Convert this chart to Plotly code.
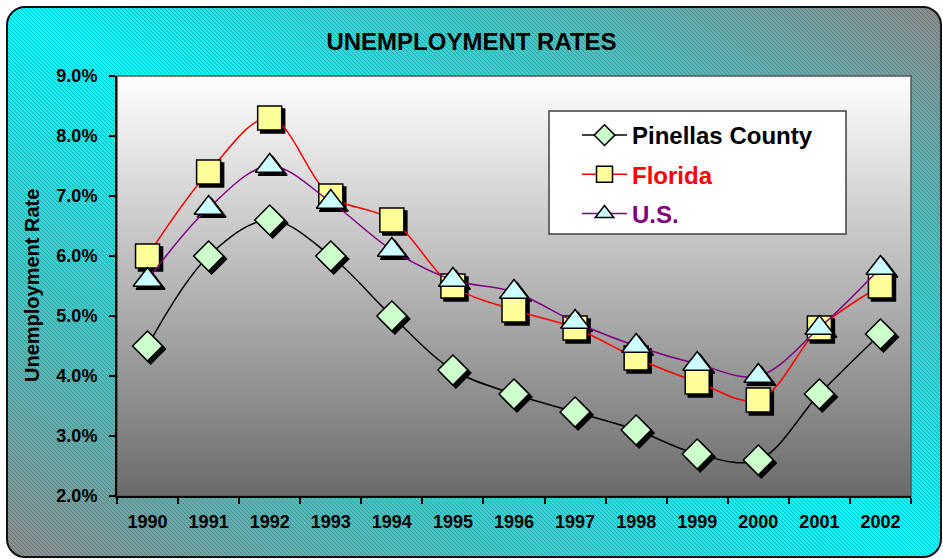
import base64
import plotly.graph_objects as go

years = ["1990", "1991", "1992", "1993", "1994", "1995", "1996",
         "1997", "1998", "1999", "2000", "2001", "2002"]
pinellas = [4.5, 6.0, 6.6, 6.0, 5.0, 4.1, 3.7, 3.4, 3.1, 2.7, 2.6, 3.7, 4.7]
florida = [6.0, 7.4, 8.3, 7.0, 6.6, 5.5, 5.1, 4.8, 4.3, 3.9, 3.6, 4.8, 5.5]
us = [5.6, 6.8, 7.5, 6.9, 6.1, 5.6, 5.4, 4.9, 4.5, 4.2, 4.0, 4.8, 5.8]

W, H = 943, 559
L, R, T, B = 117, 29, 76, 60
PW, PH = W - L - R, H - T - B
SH = 3  # shadow offset px
dx, dy = SH / PW, SH / PH

FONT = "Arial, Liberation Sans, sans-serif"


def px(x):
    return (x - L) / PW


def py(y):
    return (H - B - y) / PH


outer_svg = f'''<svg xmlns="http://www.w3.org/2000/svg" width="{W}" height="{H}" viewBox="0 0 {W} {H}">
<defs>
<linearGradient id="g" x1="0" y1="1" x2="1" y2="0">
<stop offset="0" stop-color="#8e8e8e"/>
<stop offset="0.5" stop-color="#00ffff"/>
<stop offset="1" stop-color="#8e8e8e"/>
</linearGradient>
<pattern id="p" patternUnits="userSpaceOnUse" width="4" height="4">
<path d="M-1,-1 L5,5 M-1,3 L1,5 M3,-1 L5,1" stroke="rgba(0,0,0,0.22)" stroke-width="1"/>
</pattern>
</defs>
<rect x="0" y="0" width="{W}" height="{H}" fill="white"/>
<rect x="7" y="7" width="{W-9}" height="{H-9}" rx="18" ry="18" fill="url(#g)"/>
<rect x="7" y="7" width="{W-9}" height="{H-9}" rx="18" ry="18" fill="url(#p)" stroke="#111" stroke-width="2"/>
</svg>'''

plot_svg = '''<svg xmlns="http://www.w3.org/2000/svg" width="100" height="100" viewBox="0 0 100 100" preserveAspectRatio="none">
<defs><linearGradient id="v" x1="0" y1="0" x2="0" y2="1">
<stop offset="0" stop-color="#ffffff"/><stop offset="1" stop-color="#6b6b6b"/>
</linearGradient></defs>
<rect x="0" y="0" width="100" height="100" fill="url(#v)"/>
</svg>'''


def uri(s):
    return "data:image/svg+xml;base64," + base64.b64encode(s.encode()).decode()


series = [
    ("Pinellas County", pinellas, "black", "diamond", 23, "#ccffcc", "black"),
    ("Florida", florida, "red", "square", 24, "#ffff99", "red"),
    ("U.S.", us, "#800080", "triangle-up", 25, "#ccffff", "#800080"),
]

fig = go.Figure()

# shadows (lower subplot, shifted right/down)
for name, vals, lc, sym, sz, fc, tc in series:
    fig.add_trace(go.Scatter(
        x=years, y=vals, xaxis="x", yaxis="y", mode="markers",
        marker=dict(symbol=sym, size=sz, color="black", line=dict(width=1.5, color="black")),
        showlegend=False, hoverinfo="skip"))

for i, (name, vals, lc, sym, sz, fc, tc) in enumerate(series):
    fig.add_trace(go.Scatter(
        x=years, y=vals, xaxis="x2", yaxis="y2", mode="lines+markers",
        name=f'<span style="color:{tc}">{name}</span>', legendgroup=f"g{i}",
        line=dict(color=lc, width=1.5, shape="spline", smoothing=1.0),
        marker=dict(symbol=sym, size=sz, color=fc, line=dict(width=1.5, color="black"))))

TICKFONT = dict(size=18, family=FONT, color="black", weight="bold")

fig.update_layout(
    width=W, height=H,
    margin=dict(l=L, r=R, t=T, b=B, pad=0),
    paper_bgcolor="white", plot_bgcolor="rgba(0,0,0,0)",
    font=dict(family=FONT, color="black"),
    title=dict(text="<b>UNEMPLOYMENT RATES</b>", x=0.5, xref="container", xanchor="center",
               y=1 - 42 / H, yref="container", yanchor="middle",
               font=dict(size=24, family=FONT, color="black")),
    xaxis=dict(domain=[dx, 1], anchor="y", type="category", range=[-0.5, 12.5],
               visible=False, fixedrange=True),
    yaxis=dict(domain=[0, 1 - dy], anchor="x", range=[2, 9], visible=False),
    xaxis2=dict(domain=[0, 1 - dx], anchor="y2", type="category", range=[-0.5, 12.5],
                showline=True, linecolor="black", linewidth=2, showgrid=False, zeroline=False,
                ticks="outside", ticklen=6, tickwidth=1.5, tickcolor="black",
                tickson="boundaries", ticklabelstandoff=8, tickfont=TICKFONT),
    yaxis2=dict(domain=[dy, 1], anchor="x2", range=[2, 9], dtick=1, tick0=2,
                tickformat=".1f", ticksuffix="%",
                showline=True, linecolor="black", linewidth=2, showgrid=False, zeroline=False,
                ticks="outside", ticklen=6, tickwidth=1.5, tickcolor="black",
                ticklabelstandoff=8, tickfont=TICKFONT),
    legend=dict(x=px(577), y=py(113), xanchor="left", yanchor="top",
                bgcolor="rgba(0,0,0,0)", borderwidth=0,
                font=dict(size=24, family=FONT, color="black", weight="bold"),
                tracegroupgap=5, itemwidth=45, traceorder="grouped"),
    showlegend=True,
    images=[
        dict(source=uri(outer_svg), xref="paper", yref="paper",
             x=-L / PW, y=1 + T / PH, sizex=W / PW, sizey=H / PH,
             xanchor="left", yanchor="top", sizing="stretch", layer="below"),
        dict(source=uri(plot_svg), xref="paper", yref="paper",
             x=0, y=1, sizex=1 - dx, sizey=1 - dy,
             xanchor="left", yanchor="top", sizing="stretch", layer="below"),
    ],
    shapes=[
        dict(type="rect", xref="x2 domain", yref="y2 domain", x0=0, x1=1, y0=0, y1=1,
             line=dict(color="#555555", width=1.5), layer="below"),
        dict(type="rect", xref="paper", yref="paper", x0=px(549), x1=px(846),
             y0=py(234), y1=py(111), fillcolor="white",
             line=dict(color="#404040", width=1.5), layer="below"),
    ],
    annotations=[dict(text="<b>Unemployment Rate</b>", xref="paper", yref="paper",
                      x=px(32), y=py(286), textangle=-90,
                      showarrow=False, xanchor="center", yanchor="middle",
                      font=dict(size=20, family=FONT, color="black"))],
)

fig.write_html("out.html", config={"displayModeBar": False},
               post_script="document.body.style.margin='0px';document.body.style.overflow='hidden';")
